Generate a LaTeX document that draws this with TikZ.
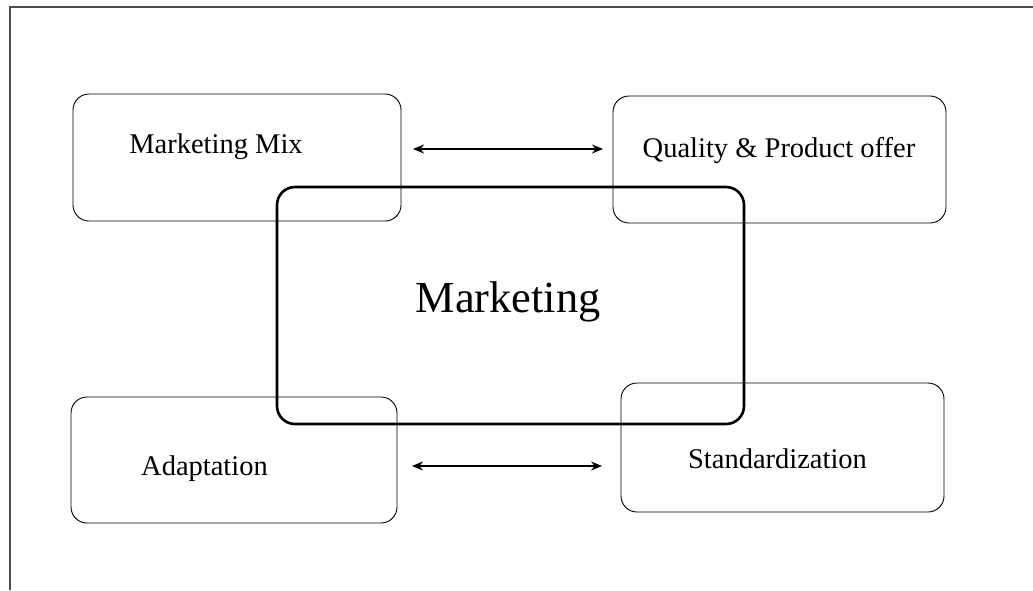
\documentclass[tikz,border=0pt]{standalone}
\usepackage{fontspec}
\setmainfont{Liberation Serif}
\usetikzlibrary{arrows.meta}

\tikzset{
    sidebox/.style={draw, line width=0.9pt, rounded corners=16pt, inner sep=0pt},
    mainbox/.style={draw, line width=2.6pt, rounded corners=18pt, inner sep=0pt},
    boxtext/.style={anchor=base, font=\fontsize{28.5}{30}\selectfont},
    maintext/.style={anchor=base, font=\fontsize{44.4}{46}\selectfont},
    dblarrow/.style={line width=1.4pt, {Stealth[length=11pt,width=9pt]}-{Stealth[length=11pt,width=9pt]}}
}

\begin{document}
\begin{tikzpicture}[x=1pt,y=-1pt]
    \useasboundingbox (0,0) rectangle (1033,590);
    % frame
    \draw[line width=1.4pt, black!70] (10,590) coordinate (fb) -- (10,7) coordinate (fc) -- (1033,7) coordinate (fr);

    % outer boxes
    \node[sidebox, minimum width=328pt, minimum height=127pt] (mix) at (237,157.5) {};
    \node[sidebox, minimum width=333pt, minimum height=127pt] (qual) at (779.5,159.5) {};
    \node[sidebox, minimum width=326pt, minimum height=126pt] (adapt) at (234,460) {};
    \node[sidebox, minimum width=323pt, minimum height=129pt] (stand) at (782.5,447.5) {};

    % centre box
    \node[mainbox, minimum width=467pt, minimum height=237pt] (market) at (510.5,305.5) {};

    % texts
    \node[boxtext] (mixtext) at (216,153) {Marketing Mix};
    \node[boxtext] (qualtext) at (779,157) {Quality \& Product offer};
    \node[boxtext] (adapttext) at (204.5,475) {Adaptation};
    \node[boxtext] (standtext) at (777.5,468) {Standardization};
    \node[maintext] (markettext) at (508,312) {Marketing};

    % arrows
    \coordinate (a1) at (413,149);
    \coordinate (a2) at (603,149);
    \coordinate (b1) at (412,466);
    \coordinate (b2) at (602,466);
    \draw[dblarrow] (a1) -- (a2);
    \draw[dblarrow] (b1) -- (b2);
\end{tikzpicture}
\end{document}
